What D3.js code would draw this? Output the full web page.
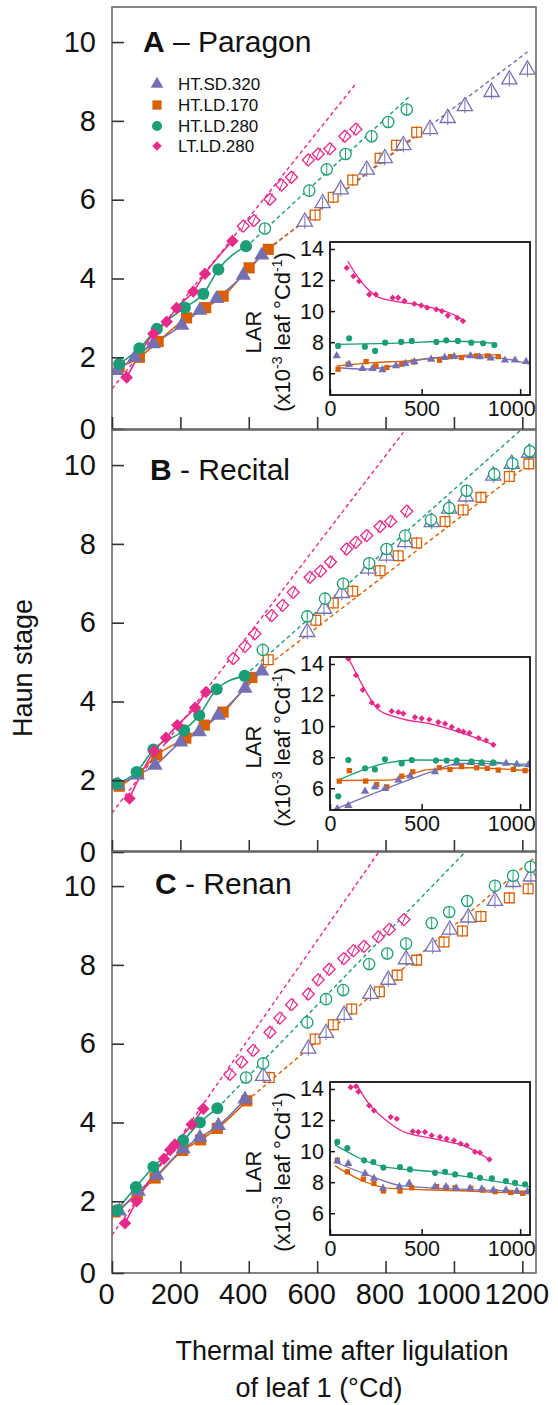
<!DOCTYPE html>
<html>
<head>
<meta charset="utf-8">
<script src="https://cdn.jsdelivr.net/npm/d3@7"></script>
<style>
body{margin:0;background:#fff;}
text{font-family:"Liberation Sans",Arial,sans-serif;fill:#111;}
</style>
</head>
<body>
<div class="box"></div>
<script>
// series, in legend order
const series=['HT.SD.320','HT.LD.170','HT.LD.280','LT.LD.280'];
const colors=['#7570b3','#d95f02','#1b9e77','#e7298a'];
const shapes=['triangle','square','circle','diamond'];
const drawOrder=[1,0,2,3];

const cultivars=['Paragon','Recital','Renan'];
const letters=['A','B','C'];
const separators=[' \u2013 ',' - ',' - '];

const xTicks=[0,200,400,600,800,1000,1200];
const yTicks=[0,2,4,6,8,10];
const larXTicks=[0,500,1000];
const larYTicks=[6,8,10,12,14];

// Haun stage, [thermal time, stage]; filled = fitted phase, open = later phase
const paragonFilled=[
  [[14,1.66],[67,2.0],[121,2.34],[204,2.81],[257,3.19],[306,3.49],[384,4.08],[438,4.59]],
  [[21,1.75],[80,2.0],[135,2.40],[218,3.0],[274,3.26],[325,3.55],[401,4.27],[457,4.74]],
  [[21,1.83],[80,2.23],[131,2.72],[213,3.26],[267,3.61],[311,4.23],[392,4.82]],
  [[43,1.49],[121,2.60],[160,2.90],[189,3.25],[238,3.67],[272,4.12],[352,4.95]]
];
const paragonOpen=[
  [[564,5.44],[616,5.91],[669,6.26],[745,6.76],[798,7.05],[852,7.38],[930,7.79],[982,8.07],[1032,8.37],[1110,8.73],[1162,9.05],[1215,9.30]],
  [[594,5.61],[647,6.06],[704,6.50],[784,7.05],[832,7.38],[891,7.71]],
  [[447,5.27],[577,6.23],[628,6.77],[683,7.16],[759,7.61],[808,7.97],[862,8.29]],
  [[384,5.33],[415,5.47],[462,6.01],[496,6.37],[525,6.57],[574,7.01],[603,7.16],[637,7.29],[681,7.61],[713,7.79]]
];
// regression lines: [t start, stage start, t end, stage end]
const paragonDashed=[[457,4.76,1215,9.75],[457,4.74,900,7.72],[392,4.80,870,8.62],[0,1.2,711,8.92]];

const recitalFilled=[
  [[18,1.88],[74,2.13],[126,2.38],[201,2.97],[255,3.23],[311,3.65],[389,4.33],[438,4.77]],
  [[21,1.85],[77,2.17],[131,2.64],[216,3.07],[270,3.40],[325,3.73],[409,4.61]],
  [[14,1.92],[72,2.21],[121,2.78],[211,3.27],[255,3.65],[306,4.31],[388,4.65]],
  [[51,1.54],[123,2.74],[158,3.08],[191,3.40],[243,3.84],[275,4.24]]
];
const recitalOpen=[
  [[571,5.76],[620,6.35],[672,6.75],[750,7.37],[803,7.70],[857,8.04],[935,8.55],[986,8.89],[1035,9.20],[1115,9.73],[1169,10.03],[1220,10.31]],
  [[457,5.06],[596,6.06],[647,6.50],[704,6.80],[784,7.32],[837,7.70],[891,8.02],[974,8.57],[1027,8.86],[1079,9.18],[1162,9.71],[1219,10.03]],
  [[441,5.31],[571,6.16],[623,6.61],[676,6.99],[752,7.51],[803,7.87],[857,8.21],[933,8.61],[986,8.91],[1037,9.35],[1118,9.77],[1171,10.04],[1222,10.35]],
  [[355,5.09],[389,5.40],[418,5.72],[467,6.18],[499,6.44],[530,6.77],[579,7.15],[610,7.31],[639,7.54],[686,7.87],[713,8.04],[745,8.21],[784,8.44],[815,8.57],[862,8.83]]
];
const recitalDashed=[null,[411,4.62,1240,10.16],[389,4.66,1193,10.87],[0,1.17,852,10.83]];

const renanFilled=[
  [[21,1.75],[77,2.25],[131,2.66],[208,3.33],[257,3.62],[311,3.92],[389,4.59]],
  [[9,1.73],[74,2.17],[126,2.59],[207,3.29],[259,3.56],[308,3.85],[394,4.55]],
  [[14,1.77],[70,2.36],[121,2.87],[208,3.54],[257,4.0],[308,4.36]],
  [[38,1.44],[72,2.0],[152,3.08],[170,3.30],[184,3.44],[233,3.95],[267,4.35]]
];
const renanOpen=[
  [[442,5.18],[574,5.87],[626,6.27],[679,6.73],[756,7.26],[808,7.62],[860,8.14],[938,8.46],[988,8.89],[1042,9.20],[1120,9.62],[1173,10.10],[1225,10.24]],
  [[460,5.14],[594,6.12],[647,6.48],[701,6.88],[782,7.32],[834,7.74],[891,8.12],[971,8.58],[1025,8.86],[1079,9.23],[1162,9.70],[1217,9.93]],
  [[392,5.14],[442,5.50],[571,6.54],[626,7.13],[676,7.36],[752,8.02],[805,8.29],[860,8.54],[935,9.06],[986,9.34],[1039,9.62],[1120,10.01],[1173,10.26],[1224,10.49]],
  [[345,5.22],[379,5.53],[413,5.83],[462,6.29],[491,6.65],[525,6.99],[574,7.26],[603,7.62],[635,7.89],[678,8.16],[706,8.36],[737,8.47],[779,8.71],[811,8.90],[854,9.15]]
];
const renanDashed=[null,[394,4.55,1242,10.77],[308,4.36,1037,10.9],[0,1.14,779,10.85]];

// leaf appearance rate (x10-3 leaf/°Cd), points and fitted curves
const paragonLar=[
  [[69,7.12],[132,6.58],[200,6.3],[251,6.3],[301,6.22],[370,6.48],[418,6.62],[463,6.73],[548,6.9],[617,7.01],[665,7.07],[748,7.12],[795,7.05],[851,6.97],[923,6.84],[974,6.84],[1030,6.75]],
  [[76,6.26],[127,6.58],[218,6.75],[268,6.48],[324,6.37],[399,6.58],[460,6.73],[591,6.84],[647,7.07],[702,7.01],[779,7.12],[834,7.12],[889,7.07]],
  [[76,7.76],[132,8.25],[212,7.71],[264,7.44],[315,7.97],[396,8.02],[450,8.08],[575,8.02],[625,8.12],[684,8.08],[752,7.97],[812,7.93],[869,7.82]],
  [[120,12.78],[154,12.25],[183,11.93],[234,11.07],[268,11.07],[353,10.86],[381,10.86],[413,10.65],[463,10.47],[498,10.36],[528,10.22],[575,10.11],[603,10.0],[633,9.72],[681,9.57],[710,9.36]]
];
const paragonLarFit=[
  [[69,6.37],[209,6.26],[310,6.37],[428,6.69],[563,7.01],[686,7.07],[803,7.05],[921,6.94],[1048,6.58]],
  [[69,6.48],[259,6.69],[428,6.80],[597,7.01],[766,7.18],[887,7.18]],
  [[69,7.86],[348,7.93],[686,8.06],[873,7.93]],
  [[125,13.21],[179,12.14],[229,11.39],[280,10.90],[348,10.68],[517,10.33],[686,9.62],[712,9.40]]
];
const recitalLar=[
  [[72,4.68],[128,4.89],[213,5.80],[263,6.09],[314,5.98],[382,6.52],[442,6.78],[568,7.06],[675,7.60],[749,7.65],[805,7.60],[861,7.60],[929,7.60],[983,7.54],[1042,7.50]],
  [[82,6.46],[133,7.13],[216,6.46],[272,6.24],[323,6.09],[399,6.78],[455,7.06],[590,7.32],[644,7.21],[703,7.39],[779,7.32],[833,7.28],[889,7.17],[966,7.21],[1025,7.13]],
  [[77,5.48],[128,7.82],[213,7.28],[263,7.21],[314,7.86],[399,7.60],[450,7.82],[573,7.78],[627,7.78],[678,7.78],[754,7.71],[805,7.65],[864,7.65]],
  [[128,14.33],[167,13.28],[201,12.33],[247,11.51],[277,11.29],[348,10.96],[382,10.90],[407,10.81],[466,10.57],[500,10.49],[539,10.42],[585,10.25],[619,10.16],[653,9.95],[687,9.73],[712,9.64],[743,9.56],[789,9.23],[827,9.08],[864,8.80]]
];
const recitalLarFit=[
  [[50,4.6],[304,5.9],[560,7.1],[690,7.6],[1045,7.55]],
  [[77,6.5],[330,6.52],[535,7.2],[750,7.32],[1045,7.13]],
  [[77,6.52],[311,7.6],[476,7.82],[750,7.8],[1045,7.39]],
  [[128,14.4],[221,12.16],[280,11.07],[382,10.53],[560,10.10],[729,9.45],[864,8.80]]
];
const renanLar=[
  [[72,9.35],[128,9.2],[213,8.56],[258,8.24],[304,7.60],[387,7.71],[437,7.92],[568,7.71],[624,7.71],[675,7.60],[746,7.60],[805,7.56],[864,7.49],[928,7.49],[983,7.43],[1037,7.39]],
  [[72,9.41],[123,8.67],[204,8.20],[258,7.92],[306,7.43],[390,7.43],[450,7.64],[576,7.71],[624,7.64],[670,7.64],[749,7.60],[810,7.49],[873,7.39],[952,7.34],[1013,7.28]],
  [[72,10.59],[123,10.20],[208,9.41],[255,9.30],[306,8.94],[390,8.98],[441,8.82],[568,8.60],[619,8.67],[670,8.50],[746,8.45],[796,8.28],[856,8.24],[928,8.07],[974,7.96],[1025,7.86]],
  [[140,14.11],[167,14.17],[179,13.83],[234,12.93],[258,12.61],[343,12.19],[374,12.08],[455,11.27],[483,11.23],[517,11.23],[551,11.01],[593,10.91],[627,10.80],[664,10.69],[698,10.48],[729,10.37],[771,9.95],[796,9.90],[844,9.46]]
];
const renanLarFit=[
  [[60,9.3],[221,8.5],[390,7.8],[700,7.55],[1050,7.4]],
  [[60,9.05],[221,7.98],[340,7.6],[700,7.45],[1050,7.25]],
  [[60,10.4],[306,9.0],[560,8.67],[800,8.2],[1050,7.7]],
  [[170,14.3],[226,13.15],[310,12.08],[395,11.33],[560,10.8],[729,10.27],[844,9.46]]
];

const panels=[
  {filled:paragonFilled,open:paragonOpen,dashed:paragonDashed,lar:paragonLar,larFit:paragonLarFit},
  {filled:recitalFilled,open:recitalOpen,dashed:recitalDashed,lar:recitalLar,larFit:recitalLarFit},
  {filled:renanFilled,open:renanOpen,dashed:renanDashed,lar:renanLar,larFit:renanLarFit}
];

// layout
const W=558,H=1405;
const frame={left:112,right:536,height:422};
const panelTops=[7,430,851];
const titlePos=[[143,45],[150,50],[155,43]];
const inset={left:330,width:200,height:153};
const insetTops=[242,657,1082];

const svg=d3.select('.box').append('svg').attr('width',W).attr('height',H).style('background','white');

const x=d3.scaleLinear().domain([0,1240]).range([frame.left,frame.right]);
const y=d3.scaleLinear().domain([0.18,10.89]).range([frame.height,0]);
const yAxisScale=y.copy().clamp(true);
const xi=d3.scaleLinear().domain([35,1050]).range([0,inset.width]);
const yi=d3.scaleLinear().domain([4.6,14.45]).range([inset.height,0]);
const xiAxisScale=xi.copy().clamp(true);

const symTypes={triangle:d3.symbolTriangle,square:d3.symbolSquare,circle:d3.symbolCircle,diamond:d3.symbolSquare};
const bigSize={triangle:100,square:125,circle:115,diamond:78};
const openSize={triangle:100,square:95,circle:100,diamond:72};
const smallSize={triangle:30,square:28,circle:30,diamond:20};

function symbolPath(shape,size){
  return d3.symbol().type(symTypes[shape]).size(size)();
}
function place(px,py,shape){
  return `translate(${px},${py})`+(shape==='diamond'?' rotate(45)':'');
}

const line=(sx,sy)=>d3.line().x(d=>sx(d[0])).y(d=>sy(d[1]));

panels.forEach((p,pi)=>{
  const g=svg.append('g').attr('transform',`translate(0,${panelTops[pi]})`);

  const clipId='clip'+pi;
  g.append('clipPath').attr('id',clipId).append('rect')
    .attr('x',frame.left).attr('y',0).attr('width',frame.right-frame.left).attr('height',frame.height);
  const plot=g.append('g').attr('clip-path',`url(#${clipId})`);

  // regression lines
  p.dashed.forEach((d,i)=>{
    if(!d) return;
    plot.append('path').datum([[d[0],d[1]],[d[2],d[3]]])
      .attr('d',line(x,y)).attr('fill','none')
      .attr('stroke',colors[i]).attr('stroke-width',1.4).attr('stroke-dasharray','4,3');
  });

  // fitted lines through filled points
  drawOrder.forEach(i=>{
    plot.append('path').datum(p.filled[i])
      .attr('d',line(x,y).curve(d3.curveMonotoneX)).attr('fill','none')
      .attr('stroke',colors[i]).attr('stroke-width',1.6);
  });

  // open markers with small error bars
  drawOrder.forEach(i=>{
    const sh=shapes[i];
    const m=plot.append('g').selectAll('g').data(p.open[i]).enter().append('g')
      .attr('transform',d=>`translate(${x(d[0])},${y(d[1])})`);
    m.append('path').attr('d',symbolPath(sh,openSize[sh]))
      .attr('transform',sh==='diamond'?'rotate(45)':null)
      .attr('fill','white').attr('stroke',colors[i]).attr('stroke-width',1.3);
    m.append('line')
      .attr('x1',sh==='diamond'?-2.5:0).attr('x2',sh==='diamond'?2.5:0)
      .attr('y1',sh==='triangle'?7:6).attr('y2',-6)
      .attr('stroke',colors[i]).attr('stroke-width',1);
  });

  // filled markers
  drawOrder.forEach(i=>{
    const sh=shapes[i];
    plot.append('g').selectAll('path').data(p.filled[i]).enter().append('path')
      .attr('d',symbolPath(sh,bigSize[sh]))
      .attr('transform',d=>place(x(d[0]),y(d[1]),sh))
      .attr('fill',colors[i]);
  });

  // frame
  g.append('rect').attr('x',frame.left).attr('y',0)
    .attr('width',frame.right-frame.left).attr('height',frame.height)
    .attr('fill','none').attr('stroke','#666').attr('stroke-width',1.6);

  // axes
  const gy=g.append('g').attr('transform',`translate(${frame.left},0)`)
    .call(d3.axisLeft(yAxisScale).tickValues(yTicks).tickSize(-12).tickPadding(16));
  const gx=g.append('g').attr('transform',`translate(0,${frame.height})`)
    .call(d3.axisBottom(x).tickValues(xTicks).tickSize(-12).tickPadding(10)
      .tickFormat(pi===2?d3.format('d'):''));
  [gy,gx].forEach(a=>{
    a.select('.domain').remove();
    a.selectAll('.tick line').attr('stroke','#333').attr('stroke-width',1.6);
    a.selectAll('.tick text').style('font-size','29px').attr('fill','#111');
  });
  gx.selectAll('.tick text').attr('dx',-6);

  // panel title
  const t=g.append('text').attr('x',titlePos[pi][0]).attr('y',titlePos[pi][1]).style('font-size','30px');
  t.append('tspan').style('font-weight','bold').text(letters[pi]);
  t.append('tspan').text(separators[pi]+cultivars[pi]);

  // inset: leaf appearance rate
  const ig=g.append('g').attr('transform',`translate(${inset.left},${insetTops[pi]-panelTops[pi]})`);
  ig.append('rect').attr('width',inset.width).attr('height',inset.height).attr('fill','white');
  const iclip='iclip'+pi;
  ig.append('clipPath').attr('id',iclip).append('rect').attr('width',inset.width).attr('height',inset.height);
  const iplot=ig.append('g').attr('clip-path',`url(#${iclip})`);
  drawOrder.forEach(i=>{
    iplot.append('path').datum(p.larFit[i])
      .attr('d',line(xi,yi).curve(d3.curveMonotoneX)).attr('fill','none')
      .attr('stroke',colors[i]).attr('stroke-width',1.3);
  });
  drawOrder.forEach(i=>{
    const sh=shapes[i];
    iplot.append('g').selectAll('path').data(p.lar[i]).enter().append('path')
      .attr('d',symbolPath(sh,smallSize[sh]))
      .attr('transform',d=>place(xi(d[0]),yi(d[1]),sh))
      .attr('fill',colors[i]);
  });
  ig.append('rect').attr('width',inset.width).attr('height',inset.height)
    .attr('fill','none').attr('stroke','#111').attr('stroke-width',1.8);

  const iy=ig.append('g').call(d3.axisLeft(yi).tickValues(larYTicks).tickSize(-5).tickPadding(6));
  const ix=ig.append('g').attr('transform',`translate(0,${inset.height})`)
    .call(d3.axisBottom(xiAxisScale).tickValues(larXTicks).tickSize(-6).tickPadding(6).tickFormat(d3.format('d')));
  [iy,ix].forEach(a=>{
    a.select('.domain').remove();
    a.selectAll('.tick line').attr('stroke','#111').attr('stroke-width',1.5);
    a.selectAll('.tick text').style('font-size','21.5px').attr('fill','#111');
  });
  ix.selectAll('.tick text').filter(d=>d===1000).attr('text-anchor','end').attr('dx',15);

  ig.append('text').attr('transform','translate(-69,90) rotate(-90)')
    .attr('text-anchor','middle').style('font-size','22px').text('LAR');
  const lab=ig.append('text').attr('transform','translate(-40,90) rotate(-90)')
    .attr('text-anchor','middle').style('font-size','22px');
  lab.append('tspan').text('(x10');
  lab.append('tspan').attr('dy',-8).style('font-size','14px').text('-3');
  lab.append('tspan').attr('dy',8).text(' leaf \u00b0Cd');
  lab.append('tspan').attr('dy',-8).style('font-size','14px').text('-1');
  lab.append('tspan').attr('dy',8).text(')');
});

// legend (panel A)
const legY=[84,105,126,146];
const leg=svg.append('g');
series.forEach((s,i)=>{
  const sh=shapes[i];
  const sizes={triangle:70,square:85,circle:80,diamond:45};
  leg.append('path').attr('d',symbolPath(sh,sizes[sh]))
    .attr('transform',place(157,legY[i],sh)).attr('fill',colors[i]);
  leg.append('text').attr('x',178).attr('y',legY[i]+6).style('font-size','17px').attr('fill','#222').text(s);
});

// axis titles
svg.append('text').attr('transform','translate(32,668) rotate(-90)')
  .attr('text-anchor','middle').style('font-size','27px').text('Haun stage');
svg.append('text').attr('x',342).attr('y',1360).attr('text-anchor','middle')
  .style('font-size','27px').text('Thermal time after ligulation');
svg.append('text').attr('x',319).attr('y',1397).attr('text-anchor','middle')
  .style('font-size','27px').text('of leaf 1 (\u00b0Cd)');
</script>
</body>
</html>
